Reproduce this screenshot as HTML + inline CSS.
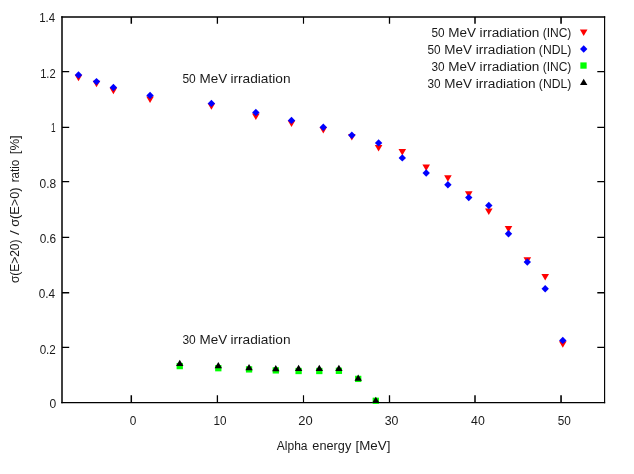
<!DOCTYPE html>
<html><head><meta charset="utf-8"><title>plot</title>
<style>
html,body{margin:0;padding:0;background:#ffffff;}
body{width:634px;height:474px;overflow:hidden;}
svg{display:block;will-change:transform;}
text{font-family:"Liberation Sans",sans-serif;font-size:12px;fill:#1a1a1a;}
</style></head><body>
<svg width="634" height="474" viewBox="0 0 634 474">
<rect x="0" y="0" width="634" height="474" fill="#ffffff"/>
<g stroke="#000000" fill="none">
<path stroke-width="1.5" d="M131.3 402.6V395.2M131.3 16.96V23.8"/>
<path stroke-width="1.3" d="M217.4 402.6V395.2M217.4 16.96V23.8"/>
<path stroke-width="1.15" d="M303.5 402.6V395.2M303.5 16.96V23.8"/>
<path stroke-width="1.3" d="M389.5 402.6V395.2M389.5 16.96V23.8"/>
<path stroke-width="1.5" d="M475.0 402.6V395.2M475.0 16.96V23.8"/>
<path stroke-width="1.6" d="M561.05 402.6V395.2M561.05 16.96V23.8"/>
<path stroke-width="1.2" d="M62.0 347.35H69.2M604.6 347.35H597.3"/>
<path stroke-width="1.5" d="M62.0 292.7H69.2M604.6 292.7H597.3"/>
<path stroke-width="1.3" d="M62.0 237.35H69.2M604.6 237.35H597.3"/>
<path stroke-width="1.2" d="M62.0 181.6H69.2M604.6 181.6H597.3"/>
<path stroke-width="1.15" d="M62.0 127.4H69.2M604.6 127.4H597.3"/>
<path stroke-width="1.15" d="M62.0 71.57H69.2M604.6 71.57H597.3"/>
<path stroke-width="1.5" d="M62.0 16.26V403.25"/>
<path stroke-width="1.15" d="M604.6 16.26V403.25"/>
<path stroke-width="1.4" d="M61.25 16.96H605.1750000000001"/>
<path stroke-width="1.3" d="M61.25 402.6H605.1750000000001"/>
</g>
<text x="129.63" y="424.80" textLength="6.60" lengthAdjust="spacingAndGlyphs">0</text>
<text x="213.52" y="424.80" textLength="13.01" lengthAdjust="spacingAndGlyphs">10</text>
<text x="298.25" y="424.80" textLength="14.43" lengthAdjust="spacingAndGlyphs">20</text>
<text x="384.71" y="424.80" textLength="13.76" lengthAdjust="spacingAndGlyphs">30</text>
<text x="471.05" y="424.80" textLength="13.71" lengthAdjust="spacingAndGlyphs">40</text>
<text x="557.73" y="424.80" textLength="13.11" lengthAdjust="spacingAndGlyphs">50</text>
<text x="39.14" y="22.20" textLength="15.90" lengthAdjust="spacingAndGlyphs">1.4</text>
<text x="40.16" y="78.10" textLength="15.50" lengthAdjust="spacingAndGlyphs">1.2</text>
<text x="50.88" y="132.30" textLength="4.60" lengthAdjust="spacingAndGlyphs">1</text>
<text x="39.62" y="187.90" textLength="16.61" lengthAdjust="spacingAndGlyphs">0.8</text>
<text x="39.63" y="242.50" textLength="16.45" lengthAdjust="spacingAndGlyphs">0.6</text>
<text x="38.68" y="298.20" textLength="16.38" lengthAdjust="spacingAndGlyphs">0.4</text>
<text x="39.63" y="353.60" textLength="16.20" lengthAdjust="spacingAndGlyphs">0.2</text>
<text x="49.62" y="408.10" textLength="6.72" lengthAdjust="spacingAndGlyphs">0</text>
<text x="276.80" y="450.40" textLength="30.73" lengthAdjust="spacingAndGlyphs">Alpha</text>
<text x="312.39" y="450.40" textLength="38.88" lengthAdjust="spacingAndGlyphs">energy</text>
<text x="355.57" y="450.40" textLength="34.79" lengthAdjust="spacingAndGlyphs">[MeV]</text>
<g transform="translate(19.3,282.9) rotate(-90)">
<text x="-0.18" y="0.00" textLength="43.51" lengthAdjust="spacingAndGlyphs">σ(E&gt;20)</text>
<text x="48.00" y="0.00" textLength="4.76" lengthAdjust="spacingAndGlyphs">/</text>
<text x="56.09" y="0.00" textLength="39.45" lengthAdjust="spacingAndGlyphs">σ(E&gt;0)</text>
<text x="100.54" y="0.00" textLength="22.63" lengthAdjust="spacingAndGlyphs">ratio</text>
<text x="128.68" y="0.00" textLength="19.00" lengthAdjust="spacingAndGlyphs">[%]</text>
</g>
<text x="182.42" y="82.80" textLength="13.33" lengthAdjust="spacingAndGlyphs" style="font-size:12.6px">50</text>
<text x="199.62" y="82.80" textLength="27.66" lengthAdjust="spacingAndGlyphs" style="font-size:12.6px">MeV</text>
<text x="230.41" y="82.80" textLength="60.20" lengthAdjust="spacingAndGlyphs" style="font-size:12.6px">irradiation</text>
<text x="182.42" y="344.40" textLength="13.33" lengthAdjust="spacingAndGlyphs" style="font-size:12.6px">30</text>
<text x="199.62" y="344.40" textLength="27.66" lengthAdjust="spacingAndGlyphs" style="font-size:12.6px">MeV</text>
<text x="230.41" y="344.40" textLength="60.20" lengthAdjust="spacingAndGlyphs" style="font-size:12.6px">irradiation</text>
<text x="431.43" y="36.80" textLength="13.11" lengthAdjust="spacingAndGlyphs">50</text>
<text x="448.22" y="36.80" textLength="27.76" lengthAdjust="spacingAndGlyphs">MeV</text>
<text x="479.62" y="36.80" textLength="59.68" lengthAdjust="spacingAndGlyphs">irradiation</text>
<text x="542.68" y="36.80" textLength="28.68" lengthAdjust="spacingAndGlyphs">(INC)</text>
<text x="427.53" y="54.20" textLength="13.11" lengthAdjust="spacingAndGlyphs">50</text>
<text x="444.32" y="54.20" textLength="27.66" lengthAdjust="spacingAndGlyphs">MeV</text>
<text x="475.71" y="54.20" textLength="59.84" lengthAdjust="spacingAndGlyphs">irradiation</text>
<text x="538.87" y="54.20" textLength="32.48" lengthAdjust="spacingAndGlyphs">(NDL)</text>
<text x="431.43" y="70.90" textLength="13.11" lengthAdjust="spacingAndGlyphs">30</text>
<text x="448.22" y="70.90" textLength="27.76" lengthAdjust="spacingAndGlyphs">MeV</text>
<text x="479.62" y="70.90" textLength="59.68" lengthAdjust="spacingAndGlyphs">irradiation</text>
<text x="542.68" y="70.90" textLength="28.68" lengthAdjust="spacingAndGlyphs">(INC)</text>
<text x="427.53" y="88.00" textLength="13.11" lengthAdjust="spacingAndGlyphs">30</text>
<text x="444.32" y="88.00" textLength="27.66" lengthAdjust="spacingAndGlyphs">MeV</text>
<text x="475.71" y="88.00" textLength="59.84" lengthAdjust="spacingAndGlyphs">irradiation</text>
<text x="538.87" y="88.00" textLength="32.48" lengthAdjust="spacingAndGlyphs">(NDL)</text>
<path d="M583.70 36.00L579.90 29.50L587.50 29.50Z" fill="#ff0000"/>
<path d="M580.00 49.00L583.70 52.70L587.40 49.00L583.70 45.30Z" fill="#0000ff"/>
<rect x="580.35" y="62.40" width="6.30" height="6.30" fill="#00ff00"/>
<path d="M583.70 78.70L580.00 85.00L587.40 85.00Z" fill="#000000"/>
<path d="M78.50 81.30L74.70 74.80L82.30 74.80Z" fill="#ff0000"/>
<path d="M96.50 87.30L92.70 80.80L100.30 80.80Z" fill="#ff0000"/>
<path d="M113.40 94.20L109.60 87.70L117.20 87.70Z" fill="#ff0000"/>
<path d="M150.05 102.90L146.25 96.40L153.85 96.40Z" fill="#ff0000"/>
<path d="M211.40 109.70L207.60 103.20L215.20 103.20Z" fill="#ff0000"/>
<path d="M255.85 119.90L252.05 113.40L259.65 113.40Z" fill="#ff0000"/>
<path d="M291.50 127.00L287.70 120.50L295.30 120.50Z" fill="#ff0000"/>
<path d="M323.30 133.60L319.50 127.10L327.10 127.10Z" fill="#ff0000"/>
<path d="M351.85 140.50L348.05 134.00L355.65 134.00Z" fill="#ff0000"/>
<path d="M378.60 151.50L374.80 145.00L382.40 145.00Z" fill="#ff0000"/>
<path d="M402.30 155.50L398.50 149.00L406.10 149.00Z" fill="#ff0000"/>
<path d="M426.20 171.10L422.40 164.60L430.00 164.60Z" fill="#ff0000"/>
<path d="M447.90 181.80L444.10 175.30L451.70 175.30Z" fill="#ff0000"/>
<path d="M468.76 197.80L464.96 191.30L472.56 191.30Z" fill="#ff0000"/>
<path d="M488.80 214.90L485.00 208.40L492.60 208.40Z" fill="#ff0000"/>
<path d="M508.50 232.60L504.70 226.10L512.30 226.10Z" fill="#ff0000"/>
<path d="M527.30 263.70L523.50 257.20L531.10 257.20Z" fill="#ff0000"/>
<path d="M545.20 280.60L541.40 274.10L549.00 274.10Z" fill="#ff0000"/>
<path d="M562.80 347.70L559.00 341.20L566.60 341.20Z" fill="#ff0000"/>
<path d="M74.80 75.00L78.50 78.70L82.20 75.00L78.50 71.30Z" fill="#0000ff"/>
<path d="M92.80 81.60L96.50 85.30L100.20 81.60L96.50 77.90Z" fill="#0000ff"/>
<path d="M109.70 87.50L113.40 91.20L117.10 87.50L113.40 83.80Z" fill="#0000ff"/>
<path d="M146.35 95.50L150.05 99.20L153.75 95.50L150.05 91.80Z" fill="#0000ff"/>
<path d="M207.70 103.40L211.40 107.10L215.10 103.40L211.40 99.70Z" fill="#0000ff"/>
<path d="M252.15 112.50L255.85 116.20L259.55 112.50L255.85 108.80Z" fill="#0000ff"/>
<path d="M287.80 120.40L291.50 124.10L295.20 120.40L291.50 116.70Z" fill="#0000ff"/>
<path d="M319.60 127.30L323.30 131.00L327.00 127.30L323.30 123.60Z" fill="#0000ff"/>
<path d="M348.15 135.20L351.85 138.90L355.55 135.20L351.85 131.50Z" fill="#0000ff"/>
<path d="M374.90 142.90L378.60 146.60L382.30 142.90L378.60 139.20Z" fill="#0000ff"/>
<path d="M398.60 157.90L402.30 161.60L406.00 157.90L402.30 154.20Z" fill="#0000ff"/>
<path d="M422.50 173.06L426.20 176.76L429.90 173.06L426.20 169.36Z" fill="#0000ff"/>
<path d="M444.20 184.80L447.90 188.50L451.60 184.80L447.90 181.10Z" fill="#0000ff"/>
<path d="M465.06 197.60L468.76 201.30L472.46 197.60L468.76 193.90Z" fill="#0000ff"/>
<path d="M485.10 205.50L488.80 209.20L492.50 205.50L488.80 201.80Z" fill="#0000ff"/>
<path d="M504.80 233.70L508.50 237.40L512.20 233.70L508.50 230.00Z" fill="#0000ff"/>
<path d="M523.60 262.10L527.30 265.80L531.00 262.10L527.30 258.40Z" fill="#0000ff"/>
<path d="M541.50 288.80L545.20 292.50L548.90 288.80L545.20 285.10Z" fill="#0000ff"/>
<path d="M559.10 340.40L562.80 344.10L566.50 340.40L562.80 336.70Z" fill="#0000ff"/>
<rect x="176.60" y="362.95" width="6.30" height="6.30" fill="#00ff00"/>
<rect x="215.15" y="365.05" width="6.30" height="6.30" fill="#00ff00"/>
<rect x="245.91" y="366.25" width="6.30" height="6.30" fill="#00ff00"/>
<rect x="272.65" y="367.25" width="6.30" height="6.30" fill="#00ff00"/>
<rect x="295.45" y="367.85" width="6.30" height="6.30" fill="#00ff00"/>
<rect x="316.15" y="367.85" width="6.30" height="6.30" fill="#00ff00"/>
<rect x="335.75" y="367.65" width="6.30" height="6.30" fill="#00ff00"/>
<rect x="355.05" y="375.75" width="6.30" height="6.30" fill="#00ff00"/>
<rect x="372.65" y="397.65" width="6.30" height="6.30" fill="#00ff00"/>
<path d="M179.75 359.70L176.05 366.00L183.45 366.00Z" fill="#000000"/>
<path d="M218.30 361.90L214.60 368.20L222.00 368.20Z" fill="#000000"/>
<path d="M249.06 364.00L245.36 370.30L252.76 370.30Z" fill="#000000"/>
<path d="M275.80 365.00L272.10 371.30L279.50 371.30Z" fill="#000000"/>
<path d="M298.60 364.80L294.90 371.10L302.30 371.10Z" fill="#000000"/>
<path d="M319.30 364.80L315.60 371.10L323.00 371.10Z" fill="#000000"/>
<path d="M338.90 364.80L335.20 371.10L342.60 371.10Z" fill="#000000"/>
<path d="M358.20 374.50L354.50 380.80L361.90 380.80Z" fill="#000000"/>
<path d="M375.80 396.80L372.10 403.10L379.50 403.10Z" fill="#000000"/>
</svg></body></html>
